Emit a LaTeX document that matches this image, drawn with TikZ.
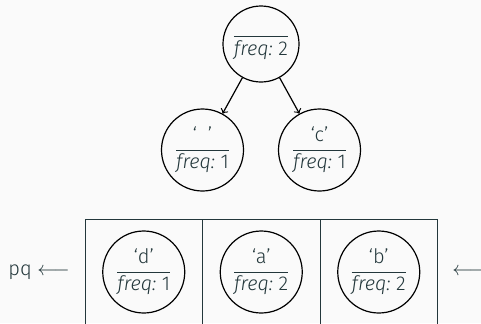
\documentclass[tikz,border=0pt]{standalone}
\usepackage{amsmath}
\usepackage{fontspec}
\setmainfont{Fira Sans Light}[ItalicFont={Fira Sans Light Italic}]
\usepackage{xcolor}
\definecolor{darkteal}{HTML}{23373B}
\definecolor{bgcolor}{HTML}{FAFAFA}

% symbol over frequency, split by a bar
\newcommand{\huff}[2]{$\displaystyle\frac{\text{#1}}{\text{\itshape freq:}\text{ #2}}$}

\begin{document}
\begin{tikzpicture}[x=0.5pt,y=-0.5pt,
    huffnode/.style={circle, draw=black, line width=0.6pt, text=darkteal,
        inner sep=0pt, minimum size=41pt},
    cell/.style={rectangle, draw=darkteal, line width=0.4pt,
        minimum width=58.75pt, minimum height=53pt, inner sep=0pt},
    link/.style={->, black, line width=0.6pt}]
    \useasboundingbox[fill=bgcolor] (0,0) rectangle (481,323);

    % the small tree that was merged
    \node[huffnode, minimum size=38pt] (root) at (261,44) {\huff{}{2}};
    \node[huffnode] (space) at (202.5,150) {\huff{‘\hspace{5.5pt}’}{1}};
    \node[huffnode] (c) at (319.5,150) {\huff{‘c’}{1}};
    \draw[link] (root) -- (space);
    \draw[link] (root) -- (c);

    % the priority queue
    \node[cell] (cell1) at (143.75,272) {};
    \node[cell] (cell2) at (261.25,272) {};
    \node[cell] (cell3) at (378.75,272) {};
    \node[huffnode] (d) at (cell1) {\huff{‘d’}{1}};
    \node[huffnode] (a) at (cell2) {\huff{‘a’}{2}};
    \node[huffnode] (b) at (cell3) {\huff{‘b’}{2}};

    % front and back of the queue
    \node[text=darkteal, anchor=east, inner sep=0pt] (pq) at (70,272) {pq $\longleftarrow$};
    \node[text=darkteal, anchor=west, inner sep=0pt] (back) at (452,272) {$\longleftarrow$};
\end{tikzpicture}
\end{document}
